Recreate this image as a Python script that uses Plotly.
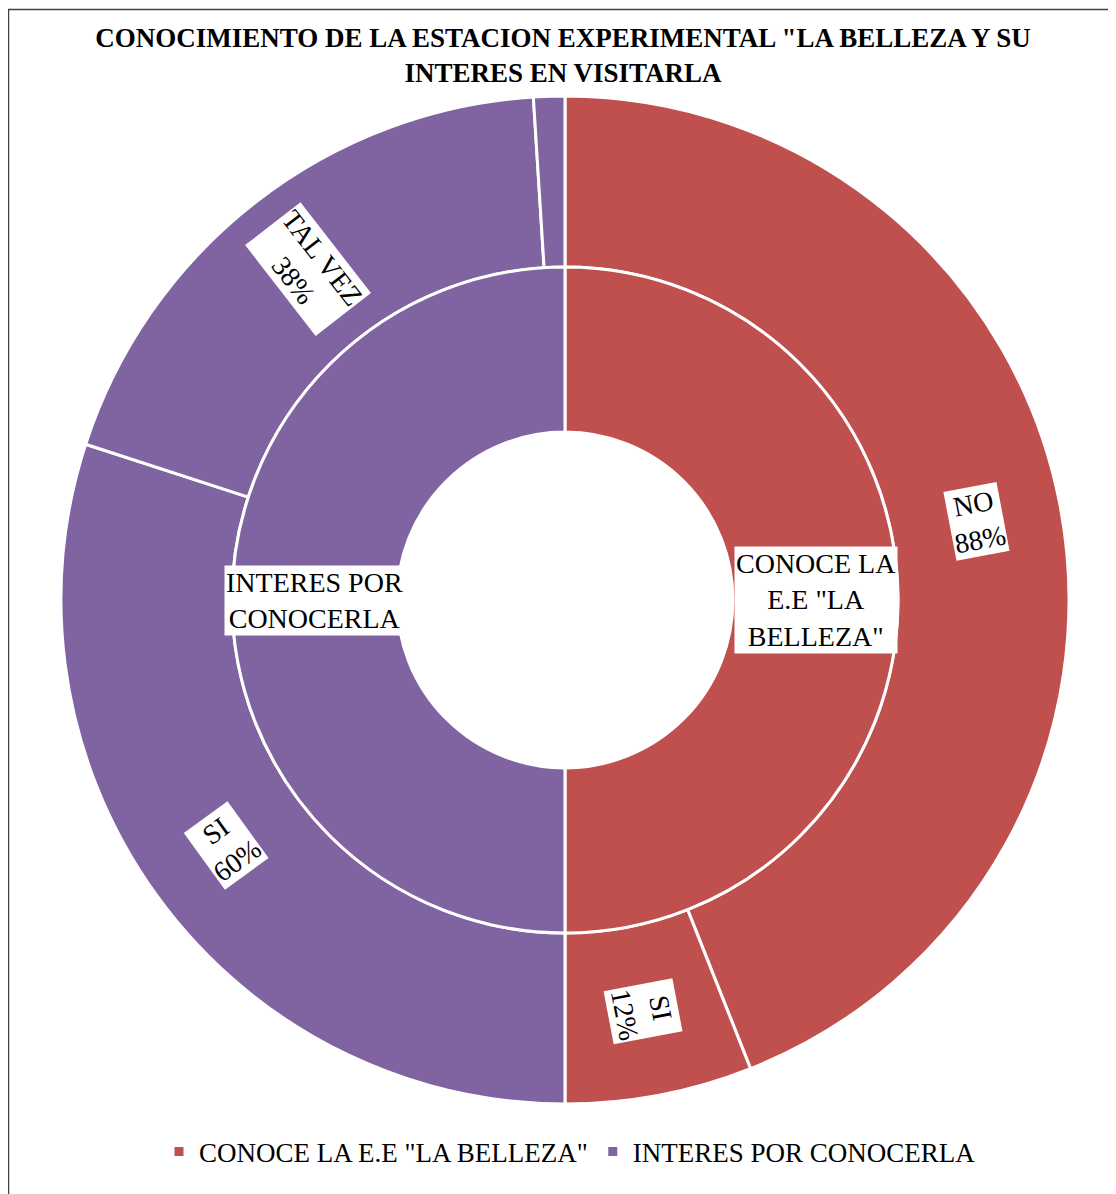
import math
import plotly.graph_objects as go

# the page has an 8px body margin, so the figure is drawn 8px in from the window edge
OFF = 8
W, H = 1116 - OFF, 1194 - OFF

# ---- data ----
title_text = 'CONOCIMIENTO DE LA ESTACION EXPERIMENTAL "LA BELLEZA Y SU<br>INTERES EN VISITARLA'
inner_labels = ['CONOCE LA E.E "LA BELLEZA"', 'INTERES POR CONOCERLA']
inner_display = ['CONOCE LA<br>E.E "LA<br>BELLEZA"', 'INTERES POR<br>CONOCERLA']
inner_values = [100, 100]
outer_labels = ['NO', 'SI', 'SI', 'TAL VEZ', 'NO']
outer_parent = [0, 0, 1, 1, 1]
outer_values = [88, 12, 60, 38, 2]
colors = ['#C0504D', '#8064A2']

# ---- geometry (pixels, figure coordinates) ----
cx, cy = 565 - OFF, 600 - OFF
r_out, r_mid, r_in = 504, 333, 168

def dom(r):
    return dict(x=[(cx - r) / W, (cx + r) / W],
                y=[(H - cy - r) / H, (H - cy + r) / H])

font_family = 'Liberation Serif, Times New Roman, serif'

# unique ids so that equal labels in different groups are not merged
outer_ids = [f'{lab} ({inner_labels[p]})' for lab, p in zip(outer_labels, outer_parent)]

fig = go.Figure()
fig.add_trace(go.Pie(
    labels=outer_ids, values=outer_values, domain=dom(r_out),
    hole=r_mid / r_out, sort=False, direction='clockwise', rotation=0,
    marker=dict(colors=[colors[p] for p in outer_parent], line=dict(color='white', width=3)),
    textinfo='none', showlegend=False, hoverinfo='label+value'))
fig.add_trace(go.Pie(
    labels=inner_labels, values=inner_values, domain=dom(r_mid),
    hole=r_in / r_mid, sort=False, direction='clockwise', rotation=0,
    marker=dict(colors=colors, line=dict(color='white', width=3)),
    textinfo='none', showlegend=True, hoverinfo='label'))

annotations = []

def add_label(text, theta, r, angle):
    x = (cx + r * math.sin(math.radians(theta))) / W
    y = (H - (cy - r * math.cos(math.radians(theta)))) / H
    annotations.append(dict(x=x, y=y, xref='paper', yref='paper', text=text,
                            showarrow=False, textangle=angle, bgcolor='white',
                            borderpad=1, xanchor='center', yanchor='middle',
                            font=dict(family=font_family, size=28, color='black')))

# inner labels (horizontal)
tot = sum(inner_values)
acc = 0
for lab, v in zip(inner_display, inner_values):
    th = (acc + v / 2) / tot * 360
    acc += v
    add_label(lab, th, (r_in + r_mid) / 2, 0)

# outer labels (radial)
tot = sum(outer_values)
acc = 0
for lab, v in zip(outer_labels, outer_values):
    th = (acc + v / 2) / tot * 360
    acc += v
    if v < 5:
        continue
    ang = th - 90 if th < 180 else th - 270
    add_label(f'{lab}<br>{v}%', th, (r_mid + r_out) / 2, ang)

fig.update_layout(
    width=W, height=H,
    margin=dict(l=0, r=0, t=0, b=0),
    paper_bgcolor='white', plot_bgcolor='white',
    title=dict(text=title_text, x=(563 - OFF) / W, xanchor='center', y=1 - 39 / H, yanchor='middle',
               xref='paper', yref='container',
               font=dict(family=font_family, size=27, color='black', weight='bold')),
    legend=dict(orientation='h', x=(570 - OFF) / W, xanchor='center', y=42 / H, yanchor='middle',
                font=dict(family=font_family, size=27, color='black'),
                itemwidth=30, traceorder='normal'),
    annotations=annotations,
    shapes=[dict(type='rect', xref='paper', yref='paper', x0=0.5 / W, x1=1.05,
                 y0=-0.05, y1=1 - 1.5 / H, line=dict(color='#404040', width=1.5))],
)

fig.write_html('out.html')
